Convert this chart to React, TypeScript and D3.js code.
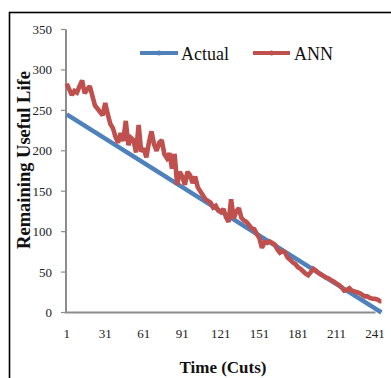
import React from "react";
import * as d3 from "d3";

const yTicks = [0, 50, 100, 150, 200, 250, 300, 350];
const xTicks = [1, 31, 61, 91, 121, 151, 181, 211, 241];

const actualCuts = [1, 31, 61, 91, 121, 151, 181, 211, 241, 246];
const actualValues = [245, 215, 185, 155, 125, 95, 65, 35, 5, 0];

const annCuts = [
  1, 3, 5, 7, 9, 11, 13, 15, 17, 19, 21, 23, 25, 27, 29, 31, 33, 35, 37, 39,
  41, 43, 45, 47, 49, 51, 53, 55, 57, 59, 61, 63, 65, 67, 69, 71, 73, 75, 77, 79,
  81, 83, 85, 87, 89, 91, 93, 95, 97, 99, 101, 103, 105, 107, 109, 111, 113, 115, 117, 119,
  121, 123, 125, 127, 129, 131, 133, 135, 137, 139, 141, 143, 145, 147, 149, 151, 153, 155, 157, 159,
  161, 163, 165, 167, 169, 171, 173, 175, 177, 179, 181, 183, 185, 187, 189, 191, 193, 195, 197, 199,
  201, 203, 205, 207, 209, 211, 213, 215, 217, 219, 221, 223, 225, 227, 229, 231, 233, 235, 237, 239,
  241, 243, 245, 246,
];
const annValues = [
  283, 276, 269, 274, 272, 280, 287, 271, 276, 280, 268, 256, 252, 248, 244, 259, 245, 233, 228, 217,
  210, 222, 212, 237, 207, 216, 213, 198, 232, 199, 203, 192, 210, 224, 208, 200, 210, 213, 196, 191,
  197, 178, 196, 158, 174, 168, 158, 174, 170, 160, 168, 155, 150, 145, 140, 138, 136, 130, 132, 126,
  124, 128, 118, 112, 140, 116, 125, 129, 117, 114, 112, 108, 104, 103, 97, 92, 80, 87, 86, 88,
  86, 84, 78, 74, 76, 74, 68, 65, 62, 60, 56, 54, 51, 48, 46, 50, 54, 52, 49, 47,
  45, 43, 42, 40, 38, 36, 34, 31, 27, 28, 30, 27, 26, 25, 24, 22, 20, 20, 18, 17,
  17, 16, 14, 14,
];

const legendNames = ["Actual", "ANN"];
const colors = ["#4F81BD", "#C0504D"];

export default function App() {
  const x = d3.scaleLinear().domain([1, 241]).range([66.7, 375]);
  const y = d3.scaleLinear().domain([0, 350]).range([312.5, 29.5]);

  const line = d3
    .line<[number, number]>()
    .x((d) => x(d[0]))
    .y((d) => y(d[1]));

  const actualPts = actualCuts.map((c, i) => [c, actualValues[i]] as [number, number]);
  const annPts = annCuts.map((c, i) => [c, annValues[i]] as [number, number]);

  const font = "'Liberation Serif', 'Times New Roman', serif";
  const axisColor = "#8C8C8C";

  return (
    <svg
      width={391}
      height={378}
      style={{ position: "absolute", left: 0, top: 0, background: "#fff" }}
      fontFamily={font}
    >
      <rect x={0} y={0} width={391} height={378} fill="#fff" />
      <rect x={9.5} y={12.5} width={420} height={420} fill="none" stroke="#000" strokeWidth={1.6} />

      {/* axes */}
      <line x1={66} x2={66} y1={y(350)} y2={y(0)} stroke={axisColor} strokeWidth={2} />
      <line x1={65} x2={375.5} y1={y(0)} y2={y(0)} stroke={axisColor} strokeWidth={2} />
      {yTicks.map((t) => (
        <g key={t}>
          <line x1={61} x2={66} y1={y(t)} y2={y(t)} stroke={axisColor} strokeWidth={1.2} />
          <text x={52} y={y(t) + 4.5} textAnchor="end" fontSize={13} fill="#222">
            {t}
          </text>
        </g>
      ))}
      {xTicks.map((t) => (
        <text key={t} x={x(t)} y={338} textAnchor="middle" fontSize={13} fill="#222">
          {t}
        </text>
      ))}

      {/* series */}
      <path d={line(actualPts) || ""} fill="none" stroke={colors[0]} strokeWidth={4.5} />
      <path
        d={line(annPts) || ""}
        fill="none"
        stroke={colors[1]}
        strokeWidth={4.6}
        strokeLinejoin="miter"
        strokeMiterlimit={2}
      />

      {/* legend */}
      <line x1={140} x2={178} y1={53} y2={53} stroke={colors[0]} strokeWidth={4} />
      <circle cx={159} cy={53} r={2.5} fill={colors[0]} />
      <text x={181} y={60} fontSize={18} fill="#111">
        {legendNames[0]}
      </text>
      <line x1={253} x2={290} y1={53} y2={53} stroke={colors[1]} strokeWidth={4} />
      <circle cx={271.5} cy={53} r={2.5} fill={colors[1]} />
      <text x={294} y={60} fontSize={18} fill="#111">
        {legendNames[1]}
      </text>

      {/* titles */}
      <text x={223} y={372.5} textAnchor="middle" fontSize={17} fontWeight="bold" fill="#111">
        Time (Cuts)
      </text>
      <text
        transform="translate(30,160) rotate(-90)"
        textAnchor="middle"
        fontSize={18.5}
        fontWeight="bold"
        fill="#111"
      >
        Remaining Useful Life
      </text>
    </svg>
  );
}
